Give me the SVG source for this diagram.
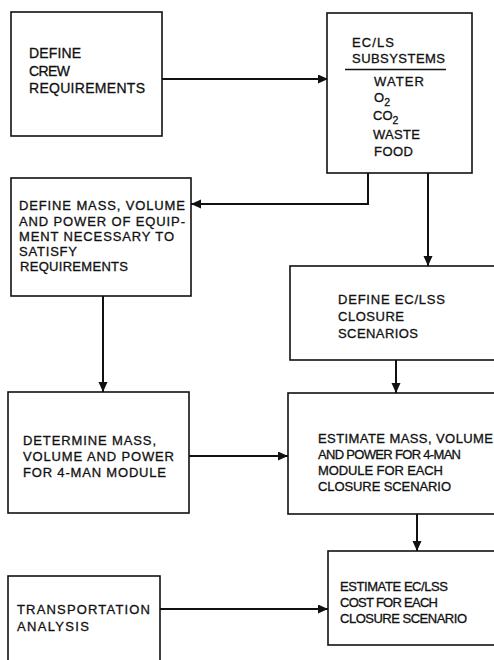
<svg xmlns="http://www.w3.org/2000/svg" width="494" height="660" viewBox="0 0 494 660">
<style>
.box{fill:#fff;stroke:#111;stroke-width:1.6}
.ln{fill:none;stroke:#111;stroke-width:2}
text{font-family:"Liberation Sans",Arial,sans-serif;font-size:13px;fill:#111;stroke:#111;stroke-width:0.3}
.t14{font-size:14px}
.sub{font-size:10.5px}
</style>
<defs>
<marker id="ah" markerUnits="userSpaceOnUse" markerWidth="11" markerHeight="10" refX="10" refY="4.5" orient="auto">
<path d="M0,0 L10,4.5 L0,9 z" fill="#111"/>
</marker>
</defs>
<rect width="494" height="660" fill="#fff"/>
<g id="connectors">
<path class="ln" d="M162,79 H328" marker-end="url(#ah)"/>
<path class="ln" d="M368,173 V204 H191" marker-end="url(#ah)"/>
<path class="ln" d="M428,173 V266" marker-end="url(#ah)"/>
<path class="ln" d="M103,296 V392" marker-end="url(#ah)"/>
<path class="ln" d="M396,360 V393" marker-end="url(#ah)"/>
<path class="ln" d="M189,456 H288" marker-end="url(#ah)"/>
<path class="ln" d="M417,514 V551" marker-end="url(#ah)"/>
<path class="ln" d="M160,609 H328" marker-end="url(#ah)"/>
</g>
<g id="crew">
<rect class="box" x="11" y="12" width="151" height="124"/>
<text class="t14" x="29" y="58" textLength="52" lengthAdjust="spacing">DEFINE</text>
<text class="t14" x="29" y="76" textLength="41" lengthAdjust="spacing">CREW</text>
<text class="t14" x="29" y="93" textLength="116" lengthAdjust="spacing">REQUIREMENTS</text>
</g>
<g id="subsystems">
<rect class="box" x="327" y="13" width="145" height="160"/>
<text x="352" y="47" textLength="42" lengthAdjust="spacing">EC/LS</text>
<text x="352" y="63" textLength="93" lengthAdjust="spacing">SUBSYSTEMS</text>
<line x1="345" y1="69.5" x2="446" y2="69.5" stroke="#111" stroke-width="1.6"/>
<text x="374" y="86" textLength="50" lengthAdjust="spacing">WATER</text>
<text x="374" y="102">O<tspan class="sub" dy="4">2</tspan></text>
<text x="373" y="120">CO<tspan class="sub" dy="4">2</tspan></text>
<text x="373" y="139" textLength="47" lengthAdjust="spacing">WASTE</text>
<text x="374" y="156" textLength="39" lengthAdjust="spacing">FOOD</text>
</g>
<g id="equipment">
<rect class="box" x="11" y="178" width="180" height="118"/>
<text x="19" y="210" textLength="166" lengthAdjust="spacing">DEFINE MASS, VOLUME</text>
<text x="19" y="225.5" textLength="166" lengthAdjust="spacing">AND POWER OF EQUIP-</text>
<text x="19" y="241" textLength="155" lengthAdjust="spacing">MENT NECESSARY TO</text>
<text x="19" y="256" textLength="58" lengthAdjust="spacing">SATISFY</text>
<text x="20" y="271" textLength="108" lengthAdjust="spacing">REQUIREMENTS</text>
</g>
<g id="closure">
<rect class="box" x="290" y="266" width="210" height="94"/>
<text x="338" y="304" textLength="107" lengthAdjust="spacing">DEFINE EC/LSS</text>
<text x="338" y="321" textLength="66" lengthAdjust="spacing">CLOSURE</text>
<text x="338" y="338" textLength="80" lengthAdjust="spacing">SCENARIOS</text>
</g>
<g id="determine">
<rect class="box" x="8" y="392" width="181" height="121"/>
<text x="23" y="445" textLength="133" lengthAdjust="spacing">DETERMINE MASS,</text>
<text x="23" y="461" textLength="151" lengthAdjust="spacing">VOLUME AND POWER</text>
<text x="23" y="477" textLength="143" lengthAdjust="spacing">FOR 4-MAN MODULE</text>
</g>
<g id="estimate-mass">
<rect class="box" x="288" y="393" width="212" height="121"/>
<text x="318" y="443" textLength="175" lengthAdjust="spacing">ESTIMATE MASS, VOLUME</text>
<text x="318" y="459" textLength="143" lengthAdjust="spacing">AND POWER FOR 4-MAN</text>
<text x="318" y="475" textLength="125" lengthAdjust="spacing">MODULE FOR EACH</text>
<text x="318" y="491" textLength="133" lengthAdjust="spacing">CLOSURE SCENARIO</text>
</g>
<g id="estimate-cost">
<rect class="box" x="328" y="551" width="172" height="94"/>
<text x="340" y="591" textLength="108" lengthAdjust="spacing">ESTIMATE EC/LSS</text>
<text x="340" y="607" textLength="98" lengthAdjust="spacing">COST FOR EACH</text>
<text x="340" y="623" textLength="127" lengthAdjust="spacing">CLOSURE SCENARIO</text>
</g>
<g id="transportation">
<rect class="box" x="8" y="576" width="152" height="100"/>
<text x="17" y="614" textLength="133" lengthAdjust="spacing">TRANSPORTATION</text>
<text x="17" y="631" textLength="72" lengthAdjust="spacing">ANALYSIS</text>
</g>
</svg>
